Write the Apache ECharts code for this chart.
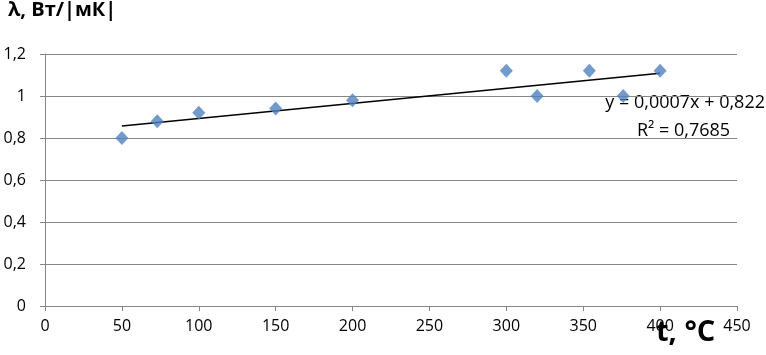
<!DOCTYPE html>
<html>
<head>
<meta charset="utf-8">
<script src="https://cdn.jsdelivr.net/npm/echarts@6/dist/echarts.min.js"></script>
<style>
  html, body { margin: 0; padding: 0; background: #fff; }
  #chart { width: 766px; height: 355px; }
</style>
</head>
<body>
<div id="chart"></div>
<script>
// measured points: temperature, conductivity
const tempC = [50, 73, 100, 150, 200, 300, 320, 354, 376, 400];
const lambda = [0.80, 0.88, 0.92, 0.94, 0.98, 1.12, 1.00, 1.12, 1.00, 1.12];

// linear trend, ends
const trendX = [50, 400];
const trendY = [0.857, 1.108];

const trendText = ['y = 0,0007x + 0,822', 'R² = 0,7685'];

const fmt = v => String(v).replace('.', ',');

const chart = echarts.init(document.getElementById('chart'));

chart.setOption({
  animation: false,
  textStyle: { fontFamily: 'Open Sans' },
  grid: { left: 45, right: 29, top: 54, bottom: 49 },
  xAxis: {
    type: 'value',
    min: 0, max: 450, interval: 50,
    axisLine: { lineStyle: { color: '#868686' } },
    axisTick: { show: true, length: 5, lineStyle: { color: '#868686' } },
    axisLabel: { color: '#000', fontSize: 16, margin: 12 },
    splitLine: { show: false }
  },
  yAxis: {
    type: 'value',
    min: 0, max: 1.2, interval: 0.2,
    axisLine: { show: true, lineStyle: { color: '#868686' } },
    axisTick: { show: true, length: 5, lineStyle: { color: '#868686' } },
    axisLabel: { color: '#000', fontSize: 16, margin: 19, formatter: v => fmt(+v.toFixed(1)) },
    splitLine: { lineStyle: { color: '#868686' } }
  },
  graphic: [
    { type: 'text', left: 8, top: 0, style: { text: 'λ, Вт/|мК|', font: 'bold 20px "Open Sans"', fill: '#000' } },
    { type: 'text', left: 656, top: 318, style: { text: 't, °C', font: 'bold 29px "Open Sans"', fill: '#000' } },
    { type: 'text', right: 1, top: 94, style: { text: trendText[0], font: '18px "Open Sans"', fill: '#000' } },
    { type: 'text', left: 637, top: 122, style: { text: trendText[1], font: '18px "Open Sans"', fill: '#000' } }
  ],
  series: [
    {
      type: 'line',
      data: trendX.map((x, i) => [x, trendY[i]]),
      symbol: 'none',
      lineStyle: { color: '#000', width: 1.5 },
      z: 1
    },
    {
      type: 'scatter',
      data: tempC.map((x, i) => [x, lambda[i]]),
      symbol: 'diamond',
      symbolSize: [13, 14],
      itemStyle: { color: '#4F81BD' },
      z: 3
    }
  ]
});
</script>
</body>
</html>
